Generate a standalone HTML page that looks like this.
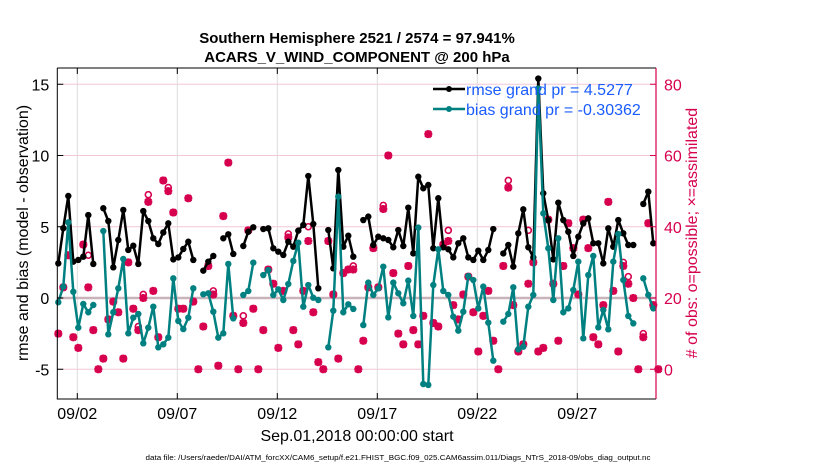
<!DOCTYPE html>
<html><head><meta charset="utf-8"><style>
html,body{margin:0;padding:0;background:#fff;}
svg{display:block;font-family:"Liberation Sans",Arial,sans-serif;}
</style></head><body>
<svg id="chart" width="830" height="470" viewBox="0 0 830 470" xmlns="http://www.w3.org/2000/svg">
<text x="357" y="43" text-anchor="middle" font-size="15" font-weight="bold">Southern Hemisphere 2521 / 2574 = 97.941%</text>
<text x="357" y="62" text-anchor="middle" font-size="15" font-weight="bold">ACARS_V_WIND_COMPONENT @ 200 hPa</text>
<g id="grid"></g>
<g id="marks"></g>
<g id="axes"></g>
<text transform="translate(28,233) rotate(-90)" text-anchor="middle" font-size="16">rmse and bias (model - observation)</text>
<text transform="translate(697,233) rotate(-90)" text-anchor="middle" font-size="16" fill="#d6004f"># of obs: o=possible; ×=assimilated</text>
<text x="357" y="441" text-anchor="middle" font-size="16">Sep.01,2018 00:00:00 start</text>
<text x="398" y="460" text-anchor="middle" font-size="7" textLength="505" lengthAdjust="spacingAndGlyphs">data file: /Users/raeder/DAI/ATM_forcXX/CAM6_setup/f.e21.FHIST_BGC.f09_025.CAM6assim.011/Diags_NTrS_2018-09/obs_diag_output.nc</text>
<g>
<line x1="433" y1="89" x2="465" y2="89" stroke="#000" stroke-width="2.5"/>
<circle cx="449" cy="89" r="3" fill="#000"/>
<text x="466" y="95" font-size="16" fill="#1a5cff">rmse grand pr = 4.5277</text>
<line x1="433" y1="109" x2="465" y2="109" stroke="#008080" stroke-width="2.5"/>
<circle cx="449" cy="109" r="3" fill="#008080"/>
<text x="466" y="115" font-size="16" fill="#1a5cff">bias grand pr = -0.30362</text>
</g>
</svg>
<script>
var N=null;
var rmse=[2.43,4.9,7.16,2.55,2.67,2.9,5.82,2.39,N,6.3,5.4,2.15,4.07,6.18,3.37,3.67,2.39,6.1,5.4,4.19,3.79,4.6,5.24,2.71,2.85,3.44,3.95,2.67,N,1.92,2.55,2.95,N,4.19,4.47,3.09,N,3.65,4.65,4.96,N,4.84,4.89,3.49,3.25,3.02,3.95,3.6,4.73,5.12,8.56,5.19,0.68,N,4.77,2.08,8.98,3.6,4.37,2.9,N,5.47,5.71,3.72,4.3,4.19,4.07,3.56,4.77,3.65,6.34,3.13,8.51,7.7,7.93,3.49,7.0,3.56,3.42,2.85,3.84,4.19,2.85,2.67,3.32,2.67,3.37,4.84,N,3.13,3.72,2.2,4.54,6.22,3.56,2.85,15.4,7.35,5.47,2.71,6.69,5.47,4.65,2.95,4.3,5.24,5.59,3.84,3.84,2.43,4.89,3.6,5.47,4.54,3.72,3.72,N,6.6,7.46,3.84];
var bias=[-0.3,0.8,5.31,0.44,-2.08,-0.42,-1.0,-0.49,N,4.7,-2.55,-1.0,0.68,2.74,-2.48,-1.38,-1.12,-3.18,-2.08,-0.61,-3.46,-3.25,-2.78,1.38,-1.61,-2.18,-1.38,0.68,N,0.26,0.33,-0.96,-2.78,-2.48,2.39,-1.43,N,0.21,0.49,2.48,N,1.61,1.96,0.21,0.61,-0.14,0.98,2.6,3.88,-0.61,0.91,0.02,-0.14,N,-3.46,-0.89,7.11,-1.0,-0.44,-0.77,N,-1.9,1.08,0.21,0.68,2.2,-1.36,1.08,0.33,-0.37,1.22,-1.26,4.94,-6.04,-6.1,0.91,3.42,0.49,0.21,-1.31,-2.29,-0.96,1.54,1.26,-0.73,0.8,-1.73,-4.4,N,-1.66,-1.12,0.75,-3.6,-3.42,-0.61,0.21,14.7,5.94,3.49,-0.14,4.19,-1.0,-0.73,0.56,2.55,-2.83,1.61,2.95,-2.06,-0.84,-2.2,2.55,4.49,1.26,-1.26,-1.78,N,1.38,0.21,-0.73];
var assimilated=[10,23,32,9,6,35,23,11,0,3,14,19,16,3,30,17,11,20,47,22,9,53,50,44,17,17,48,19,0,12,29,21,1,43,58,15,0,13,39,17,0,11,28,24,6,22,37,11,7,22,36,16,2,0,36,21,3,27,28,28,0,8,23,34,23,45,60,27,10,7,29,11,7,15,66,13,12,35,36,18,14,21,26,16,5,15,22,8,0,29,51,18,5,7,24,30,5,6,42,24,8,29,41,34,21,42,34,9,7,18,47,22,5,29,24,20,0,9,41,18,0];
var possible=assimilated.slice();
possible[6]=32;possible[16]=12;possible[17]=21;possible[18]=49;possible[22]=51;possible[31]=22;possible[37]=15;possible[46]=38;possible[50]=40;possible[59]=29;possible[65]=46;possible[78]=39;possible[90]=53;possible[94]=39;possible[113]=30;possible[114]=26;possible[117]=10;
var xTickLabels=["09/02","09/07","09/12","09/17","09/22","09/27"];
var xTickDays=[1,6,11,16,21,26];
var yLeftTicks=[-5,0,5,10,15];
var yRightTicks=[0,20,40,60,80];

var PL=57.3,PR=656,PT=68,PB=399;
function xS(d){return PL+1+d*20;}
function yL(v){return 298-v*14.25;}
function yR(c){return yL(c/4-5);}
var NS="http://www.w3.org/2000/svg";
function mk(tag,attrs,parent){var e=document.createElementNS(NS,tag);for(var k in attrs)e.setAttribute(k,attrs[k]);parent.appendChild(e);return e;}
var grid=document.getElementById('grid'),marks=document.getElementById('marks'),axes=document.getElementById('axes');
var CR="#d6004f";
yRightTicks.forEach(function(c){var l=mk('line',{x1:PL,x2:PR,y1:yR(c),y2:yR(c),stroke:'#f3c6d6','stroke-width':1},grid);

});
xTickDays.forEach(function(d){var l=mk('line',{x1:xS(d)-1,x2:xS(d)-1,y1:PT,y2:PB,stroke:'#dcdcdc','stroke-width':1},grid);

});
var z=mk('line',{x1:PL,x2:PR,y1:yL(0),y2:yL(0),stroke:'#c9b3bb','stroke-width':2.5},grid);


function segs(arr,color,name){
  var cur=[];
  function flush(){if(cur.length>1){var p=mk('polyline',{points:cur.join(' '),fill:'none',stroke:color,'stroke-width':2.5,'stroke-linejoin':'round'},marks);
  
  }cur=[];}
  arr.forEach(function(v,k){if(v===null){flush();}else cur.push(xS(k*0.25).toFixed(1)+','+yL(v).toFixed(1));});
  flush();
  arr.forEach(function(v,k){if(v===null)return;var c=mk('circle',{cx:xS(k*0.25),cy:yL(v),r:3.2,fill:color},marks);
  
  });
}
possible.forEach(function(c,k){if(c===null)return;var o=mk('circle',{cx:xS(k*0.25),cy:yR(c),r:3,fill:'none',stroke:CR,'stroke-width':1.6},marks);

});
assimilated.forEach(function(c,k){if(c===null)return;var x=xS(k*0.25),y=yR(c),s=4;
var p=mk('path',{d:'M'+(x-s)+' '+y+'H'+(x+s)+'M'+x+' '+(y-s)+'V'+(y+s)+'M'+(x-3)+' '+(y-3)+'L'+(x+3)+' '+(y+3)+'M'+(x-3)+' '+(y+3)+'L'+(x+3)+' '+(y-3),stroke:CR,'stroke-width':2.6,fill:'none'},marks);

});
segs(rmse,'#000','rmse');
segs(bias,'#008080','bias');
var b=mk('path',{d:'M'+PL+' '+PT+'H'+PR+'M'+PL+' '+PT+'V'+PB+'H'+PR,stroke:'#000','stroke-width':1,fill:'none'},axes);


var ra=mk('line',{x1:PR,x2:PR,y1:PT,y2:PB,stroke:CR,'stroke-width':1.2},axes);


yLeftTicks.forEach(function(v){var y=yL(v);mk('line',{x1:PL,x2:PL+6,y1:y,y2:y,stroke:'#000'},axes);
var t=mk('text',{x:PL-8,y:y+6,'text-anchor':'end','font-size':16},axes);t.textContent=v;

});
yRightTicks.forEach(function(c){var y=yR(c);mk('line',{x1:PR-6,x2:PR,y1:y,y2:y,stroke:CR},axes);
var t=mk('text',{x:PR+8,y:y+6,'font-size':16,fill:CR},axes);t.textContent=c;

});
xTickDays.forEach(function(d,i){var x=xS(d)-1;mk('line',{x1:x,x2:x,y1:PB,y2:PB-6,stroke:'#000'},axes);mk('line',{x1:x,x2:x,y1:PT,y2:PT+6,stroke:'#000'},axes);
var t=mk('text',{x:x,y:PB+20,'text-anchor':'middle','font-size':16},axes);t.textContent=xTickLabels[i];

});
</script>
</body></html>
